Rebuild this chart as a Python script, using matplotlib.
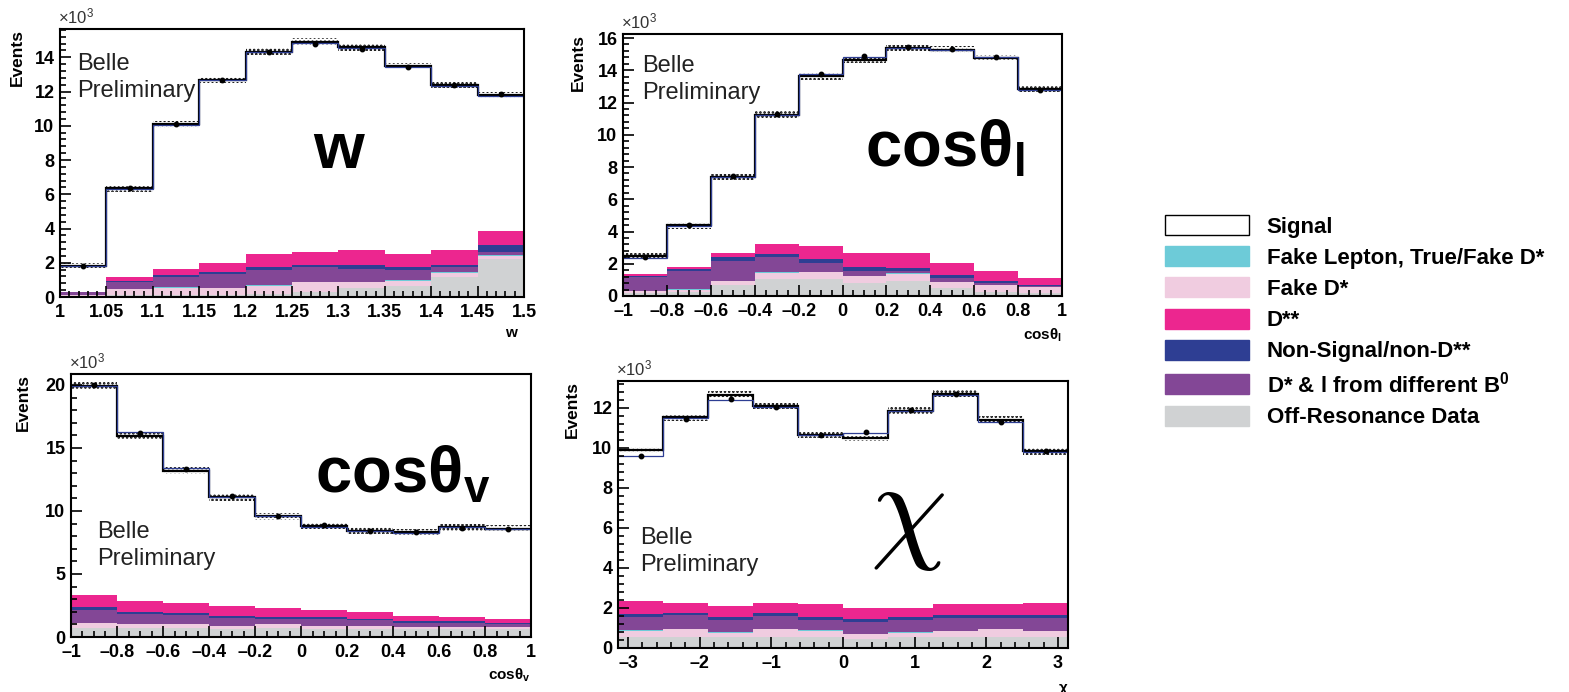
import numpy as np
import matplotlib
matplotlib.use("Agg")
import matplotlib.pyplot as plt
from matplotlib.ticker import MultipleLocator, FuncFormatter
from matplotlib.patches import Patch

plt.rcParams["font.family"] = ["Liberation Sans", "DejaVu Sans"]
plt.rcParams["mathtext.fontset"] = "custom"
plt.rcParams["mathtext.rm"] = "Liberation Sans"
plt.rcParams["mathtext.bf"] = "Liberation Sans:bold"
plt.rcParams["mathtext.it"] = "Liberation Sans:italic"
plt.rcParams["hatch.linewidth"] = 1.2

# legend entries (top to bottom) and colours
legend_labels = ["Signal", "Fake Lepton, True/Fake D*", "Fake D*", "D**",
                 "Non-Signal/non-D**", r"D* & l from different B$^{\mathbf{0}}$",
                 "Off-Resonance Data"]
c_signal = "white"
c_fakelep = "#6DCBD8"
c_fakedst = "#F0CCE0"
c_dss = "#EC268F"
c_nonsig = "#2E3E93"
c_diffb = "#834796"
c_offres = "#D0D2D3"

# ---- w (values in 10^3 events) ----
w_edges = [1.0, 1.05, 1.1, 1.15, 1.2, 1.25, 1.3, 1.35, 1.4, 1.45, 1.5]
w_offres = [0.05, 0.1, 0.1, 0.1, 0.2, 0.3, 0.5, 0.62, 1.15, 2.22]
w_fakedst = [0.08, 0.39, 0.45, 0.43, 0.45, 0.55, 0.35, 0.33, 0.25, 0.2]
w_fakelep = [0.0, 0.0, 0.01, 0.0, 0.05, 0.02, 0.02, 0.02, 0.05, 0.02]
w_diffb = [0.17, 0.39, 0.6, 0.82, 0.88, 0.9, 0.79, 0.61, 0.28, 0.21]
w_nonsig = [0.02, 0.08, 0.1, 0.11, 0.19, 0.12, 0.2, 0.19, 0.14, 0.39]
w_dss = [0.0, 0.18, 0.4, 0.51, 0.73, 0.74, 0.86, 0.73, 0.86, 0.8]
w_signal = [1.5, 5.2, 8.42, 10.71, 11.83, 12.28, 11.86, 11.0, 9.66, 7.96]
w_fit = [1.8, 6.32, 10.05, 12.65, 14.3, 14.85, 14.55, 13.45, 12.35, 11.75]
w_data = [1.8, 6.35, 10.1, 12.7, 14.3, 14.8, 14.5, 13.45, 12.4, 11.85]

# ---- cos theta_l ----
cl_edges = [-1.0, -0.8, -0.6, -0.4, -0.2, 0.0, 0.2, 0.4, 0.6, 0.8, 1.0]
cl_offres = [0.2, 0.23, 0.7, 1.04, 1.04, 0.83, 0.93, 0.48, 0.27, 0.2]
cl_fakedst = [0.11, 0.14, 0.23, 0.41, 0.45, 0.41, 0.46, 0.41, 0.41, 0.34]
cl_fakelep = [0.02, 0.04, 0.0, 0.06, 0.02, 0.02, 0.02, 0.0, 0.0, 0.0]
cl_diffb = [0.83, 1.16, 1.22, 0.89, 0.52, 0.31, 0.14, 0.21, 0.11, 0.06]
cl_nonsig = [0.08, 0.13, 0.25, 0.21, 0.25, 0.25, 0.17, 0.18, 0.16, 0.08]
cl_dss = [0.13, 0.12, 0.29, 0.64, 0.85, 0.87, 0.97, 0.75, 0.62, 0.44]
cl_signal = [1.09, 2.56, 4.69, 8.0, 10.49, 11.97, 12.69, 13.25, 13.21, 11.74]
cl_fit = [2.38, 4.35, 7.35, 11.25, 13.75, 14.8, 15.4, 15.25, 14.8, 12.75]
cl_data = [2.4, 4.4, 7.45, 11.3, 13.8, 14.9, 15.45, 15.35, 14.8, 12.75]

# ---- cos theta_v ----
cv_edges = [-1.0, -0.8, -0.6, -0.4, -0.2, 0.0, 0.2, 0.4, 0.6, 0.8, 1.0]
cv_offres = [0.74, 0.69, 0.69, 0.66, 0.69, 0.66, 0.66, 0.63, 0.61, 0.61]
cv_fakedst = [0.4, 0.31, 0.31, 0.24, 0.31, 0.24, 0.21, 0.19, 0.16, 0.16]
cv_fakelep = [0.01, 0.01, 0.01, 0.01, 0.01, 0.01, 0.01, 0.01, 0.01, 0.01]
cv_diffb = [0.99, 0.79, 0.71, 0.62, 0.42, 0.52, 0.44, 0.31, 0.33, 0.25]
cv_nonsig = [0.21, 0.16, 0.16, 0.14, 0.13, 0.13, 0.14, 0.13, 0.13, 0.11]
cv_dss = [0.96, 0.9, 0.79, 0.76, 0.72, 0.58, 0.52, 0.42, 0.32, 0.29]
cv_signal = [16.64, 13.09, 10.53, 8.65, 7.29, 6.69, 6.47, 6.66, 7.14, 7.17]
cv_fit = [19.9, 16.3, 13.4, 11.1, 9.6, 8.75, 8.4, 8.25, 8.7, 8.55]
cv_data = [20.0, 16.2, 13.35, 11.15, 9.6, 8.9, 8.45, 8.35, 8.65, 8.6]

# ---- chi ----
chi_edges = np.linspace(-np.pi, np.pi, 11)
chi_offres = [0.55, 0.55, 0.55, 0.55, 0.55, 0.47, 0.55, 0.55, 0.55, 0.55]
chi_fakedst = [0.28, 0.38, 0.22, 0.38, 0.32, 0.21, 0.22, 0.28, 0.38, 0.28]
chi_fakelep = [0.05, 0.02, 0.05, 0.02, 0.01, 0.01, 0.05, 0.01, 0.01, 0.01]
chi_diffb = [0.69, 0.68, 0.58, 0.65, 0.52, 0.61, 0.58, 0.66, 0.56, 0.66]
chi_nonsig = [0.13, 0.14, 0.13, 0.13, 0.13, 0.13, 0.13, 0.13, 0.13, 0.13]
chi_dss = [0.67, 0.46, 0.57, 0.54, 0.65, 0.57, 0.47, 0.55, 0.55, 0.64]
chi_signal = [7.54, 9.3, 10.57, 9.83, 8.49, 8.5, 9.87, 10.54, 9.24, 7.56]
chi_fit = [9.6, 11.5, 12.4, 12.05, 10.65, 10.75, 11.85, 12.65, 11.3, 9.8]
chi_data = [9.6, 11.45, 12.45, 12.05, 10.65, 10.8, 11.9, 12.7, 11.3, 9.85]

stack_colors = [c_offres, c_fakedst, c_fakelep, c_diffb, c_nonsig, c_dss, c_signal]


def fmt(v, pos):
    return ("%g" % round(v, 3)).replace("-", "\u2013")


def draw_panel(ax, edges, layers, fit, data, ymax, xmaj, xmin, ymaj, ymin):
    edges = np.asarray(edges)
    base = np.zeros(len(data))
    for vals, col in zip(layers, stack_colors):
        top = base + np.asarray(vals)
        ax.stairs(top, edges, baseline=base, fill=True, color=col, lw=0)
        base = top
    hw = 0.012 * ymax
    ax.stairs(base + hw, edges, baseline=base - hw, fill=True, facecolor="none",
              edgecolor="black", hatch="....", lw=0)
    ax.stairs(base, edges, baseline=None, color="black", lw=1.6)
    ax.stairs(fit, edges, baseline=None, color="#2E3E93", lw=0.9)
    centers = 0.5 * (edges[1:] + edges[:-1])
    ax.plot(centers, data, "o", color="black", ms=3.2)

    ax.set_xlim(edges[0], edges[-1])
    ax.set_ylim(0, ymax)
    ax.xaxis.set_major_locator(MultipleLocator(xmaj))
    ax.xaxis.set_minor_locator(MultipleLocator(xmin))
    ax.yaxis.set_major_locator(MultipleLocator(ymaj))
    ax.yaxis.set_minor_locator(MultipleLocator(ymin))
    ax.xaxis.set_major_formatter(FuncFormatter(fmt))
    ax.yaxis.set_major_formatter(FuncFormatter(fmt))
    ax.tick_params(which="both", direction="in", top=False, right=False, width=1.2)
    ax.tick_params(which="major", length=8, labelsize=13)
    ax.tick_params(axis="x", which="major", pad=5)
    ax.tick_params(axis="y", which="major", pad=4)
    ax.tick_params(which="minor", length=4)
    for lab in ax.get_xticklabels() + ax.get_yticklabels():
        lab.set_fontweight("bold")
    for sp in ax.spines.values():
        sp.set_linewidth(1.5)
    ax.text(-0.005, 1.01, r"$\times$10$^{3}$", transform=ax.transAxes,
            fontsize=12, ha="left", va="bottom", color="#333333")


W, H = 1569, 692
fig = plt.figure(figsize=(W / 100, H / 100), dpi=100)


def px_axes(l, t, r, b):
    return fig.add_axes([l / W, 1 - b / H, (r - l) / W, (b - t) / H])


ax1 = px_axes(60, 29, 524, 297)
ax2 = px_axes(623, 34, 1062, 296)
ax3 = px_axes(71, 374, 531, 637)
ax4 = px_axes(618, 381, 1068, 648)

draw_panel(ax1, w_edges, [w_offres, w_fakedst, w_fakelep, w_diffb, w_nonsig, w_dss, w_signal],
           w_fit, w_data, 15.65, 0.05, 0.01, 2, 0.4)
draw_panel(ax2, cl_edges, [cl_offres, cl_fakedst, cl_fakelep, cl_diffb, cl_nonsig, cl_dss, cl_signal],
           cl_fit, cl_data, 16.25, 0.2, 0.05, 2, 0.4)
draw_panel(ax3, cv_edges, [cv_offres, cv_fakedst, cv_fakelep, cv_diffb, cv_nonsig, cv_dss, cv_signal],
           cv_fit, cv_data, 20.87, 0.2, 0.05, 5, 1)
draw_panel(ax4, chi_edges, [chi_offres, chi_fakedst, chi_fakelep, chi_diffb, chi_nonsig, chi_dss, chi_signal],
           chi_fit, chi_data, 13.35, 1, 0.2, 2, 0.4)

# axis titles, ROOT style
xtitles = ["w", "cosθ$_{\\mathbf{l}}$", "cosθ$_{\\mathbf{v}}$", "χ"]
ylab_x = [-0.075, -0.084, -0.087, -0.084]
xlab_y = [-0.11, -0.118, -0.114, -0.124]
xlab_x = [0.985, 1.0, 1.0, 1.0]
for ax, xt, yx, xy, xx in zip([ax1, ax2, ax3, ax4], xtitles, ylab_x, xlab_y, xlab_x):
    ax.set_ylabel("Events", fontsize=12.5, fontweight="bold", loc="top")
    ax.yaxis.set_label_coords(yx, 1.0)
    ax.set_xlabel(xt, fontsize=11, fontweight="bold", loc="right")
    ax.xaxis.set_label_coords(xx, xy)

# Belle Preliminary
belle_pos = [(ax1, 0.037, 0.91), (ax2, 0.043, 0.92), (ax3, 0.057, 0.44), (ax4, 0.049, 0.452)]
for ax, x, y in belle_pos:
    ax.text(x, y, "Belle\nPreliminary", transform=ax.transAxes, fontsize=17,
            ha="left", va="top", linespacing=1.3, color="#222222")

# big variable names
ax1.text(0.6, 0.48, "w", transform=ax1.transAxes, fontsize=47, fontweight="bold",
         ha="center", va="baseline")
ax2.text(0.551, 0.492, "cosθ$_{\\mathbf{l}}$", transform=ax2.transAxes, fontsize=47,
         fontweight="bold", ha="left", va="baseline")
ax3.text(0.53, 0.548, "cosθ$_{\\mathbf{v}}$", transform=ax3.transAxes, fontsize=47,
         fontweight="bold", ha="left", va="baseline")
ax4.text(0.644, 0.495, r"$\chi$", transform=ax4.transAxes, fontsize=88, math_fontfamily="cm",
         ha="center", va="center")

# legend
handles = [Patch(facecolor=c, edgecolor="black" if c == "white" else c, lw=1.0)
           for c in [c_signal, c_fakelep, c_fakedst, c_dss, c_nonsig, c_diffb, c_offres]]
leg = fig.legend(handles, legend_labels, loc="upper left", bbox_to_anchor=(1165 / W, 1 - 215 / H),
                 frameon=False, fontsize=16, handlelength=3.8, handleheight=1.0,
                 handletextpad=0.77, labelspacing=0.39, borderpad=0, borderaxespad=0)
for t in leg.get_texts():
    t.set_fontweight("bold")

fig.savefig("out.png", dpi=100)
